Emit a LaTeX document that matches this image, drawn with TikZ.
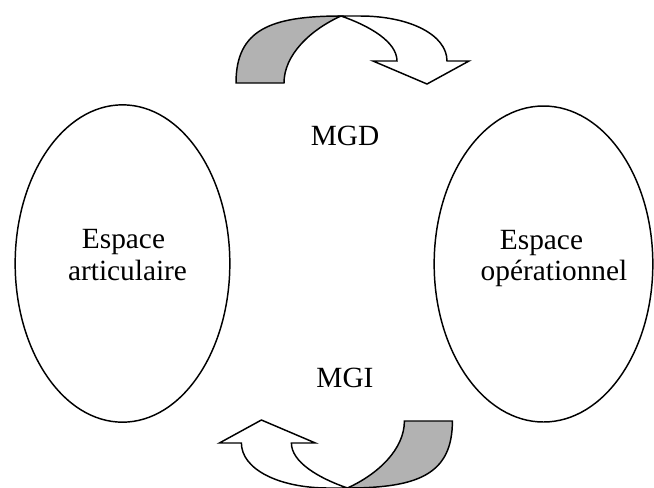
\documentclass[tikz,border=0pt]{standalone}
\usepackage{fontspec}
\setmainfont{Liberation Serif}
\usetikzlibrary{shapes.geometric}
\begin{document}
\begin{tikzpicture}[x=0.75pt,y=-0.75pt,
  space/.style={draw, ellipse, line width=1.1pt, inner sep=0pt},
  lbl/.style={anchor=base, inner sep=0pt, font=\fontsize{22}{26}\selectfont},
  outline/.style={line width=1.1pt, line join=miter},
  backside/.style={outline, fill=black!30},
  frontside/.style={outline, fill=white},
  turnarrow/.pic={
    % shaded underside of the ribbon
    \draw[backside] (236,83) .. controls (236,30) and (270,16) .. (341,16)
      .. controls (310,30) and (284,55) .. (284,83) -- cycle;
    % white top side ending in the arrow head
    \draw[frontside] (341,16) -- (360,16) .. controls (410,16) and (447,35) .. (447,61)
      -- (469,61) -- (427,84) -- (373,61) -- (397,61)
      .. controls (397,42) and (370,26) .. (341,16) -- cycle;
  }]
\useasboundingbox (0,0) rectangle (654,487);
\clip (0,0) rectangle (654,487);

% the two spaces
\node[space, minimum width=161pt, minimum height=238pt] (art) at (122.5,263.5) {};
\node[space, minimum width=164pt, minimum height=237pt] (ope) at (543.5,264) {};

\node[lbl] (art1) at (123.5,248) {Espace};
\node[lbl] (art2) at (127.5,280) {articulaire};
\node[lbl] (ope1) at (541.5,249) {Espace};
\node[lbl] (ope2) at (554,280) {opérationnel};

% models
\node[lbl] (mgd) at (345,145) {MGD};
\node[lbl] (mgi) at (345,387) {MGI};

% curved arrows
\pic at (0,0) {turnarrow};
\pic[rotate=180] at (688.4,504) {turnarrow};
\end{tikzpicture}
\end{document}
